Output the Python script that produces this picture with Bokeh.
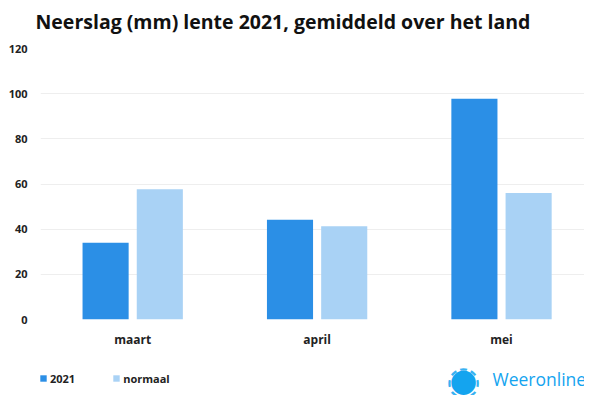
from bokeh.plotting import figure
from bokeh.layouts import column
from bokeh.models import ColumnDataSource, Range1d, FixedTicker, Legend, LegendItem, Label, Title
from bokeh.transform import dodge
from bokeh.embed import file_html
from bokeh.resources import INLINE

months = ["maart", "april", "mei"]
values_2021 = [34.0, 44.2, 97.7]
values_normaal = [57.7, 41.3, 56.0]
y_ticks = [0, 20, 40, 60, 80, 100, 120]
series_labels = ["2021", "normaal"]
title_text = "Neerslag (mm) lente 2021, gemiddeld over het land"

C2021 = "#2b8fe6"
CNORM = "#a9d2f5"
LOGO = "#14a4ef"
FONT = "Open Sans"

idx = list(range(len(months)))
source = ColumnDataSource(dict(idx=idx, month=months, v2021=values_2021, vnorm=values_normaal))

p = figure(width=584, height=350, x_range=Range1d(-0.5, len(months) - 0.55), y_range=Range1d(0, 120),
           output_backend="svg", toolbar_location=None,
           min_border_left=40, min_border_right=0, min_border_top=48, min_border_bottom=27)

# small spacer between the title and the plot area
p.add_layout(Title(text=" ", text_font_size="1px", standoff=11), "above")

p.title.text = title_text
p.title.text_font = FONT
p.title.text_font_size = "19.5px"
p.title.text_font_style = "bold"
p.title.text_color = "#111111"
p.title.offset = -5
p.title.vertical_align = "bottom"
p.title.standoff = 0

r1 = p.vbar(x=dodge("idx", -0.147), top="v2021", width=0.25,
            source=source, fill_color=C2021, line_color=None)
r2 = p.vbar(x=dodge("idx", 0.147), top="vnorm", width=0.25,
            source=source, fill_color=CNORM, line_color=None)

p.outline_line_color = None
p.xgrid.grid_line_color = None
p.ygrid.grid_line_color = "#eeeeee"
p.yaxis.ticker = FixedTicker(ticks=y_ticks)
p.xaxis.ticker = FixedTicker(ticks=idx)
p.xaxis.major_label_overrides = {i: m for i, m in zip(idx, months)}

for ax in (p.xaxis[0], p.yaxis[0]):
    ax.axis_line_color = None
    ax.major_tick_line_color = None
    ax.minor_tick_line_color = None
    ax.major_tick_out = 0
    ax.major_tick_in = 0
    ax.minor_tick_out = 0
    ax.minor_tick_in = 0
    ax.major_label_text_font = FONT
    ax.major_label_text_font_style = "bold"
    ax.major_label_text_color = "#222222"

p.yaxis.major_label_text_font_size = "11px"
p.yaxis.major_label_standoff = 13
p.xaxis.major_label_text_font_size = "12px"
p.xaxis.major_label_standoff = 11

# bottom strip: legend + logo (bars of the same data fall outside its range, so only the legend shows)
s = figure(width=584, height=45, x_range=Range1d(-0.5, len(months) - 0.55), y_range=Range1d(1000, 1045),
           output_backend="svg", toolbar_location=None, x_axis_location=None, y_axis_location=None,
           min_border_left=0, min_border_right=0, min_border_top=0, min_border_bottom=0)
s.grid.visible = False
s.outline_line_color = None

d1 = s.vbar(x="idx", top="v2021", width=0.25, source=source, fill_color=C2021, line_color=None)
d2 = s.vbar(x="idx", top="vnorm", width=0.25, source=source, fill_color=CNORM, line_color=None)

legend = Legend(items=[LegendItem(label=series_labels[0], renderers=[d1]),
                       LegendItem(label=series_labels[1], renderers=[d2])],
                location=(-1, 9), orientation="horizontal",
                padding=0, margin=0, spacing=37, label_standoff=3,
                glyph_width=8, glyph_height=8, label_height=16,
                label_text_font=FONT, label_text_font_style="bold",
                label_text_font_size="11px", label_text_color="#222222",
                background_fill_alpha=0, border_line_color=None)
s.add_layout(legend)

s.add_layout(Label(x=423, y=16, x_units="screen", y_units="screen", text="◌",
                   text_align="center", text_baseline="middle", text_alpha=0.85,
                   text_font="DejaVu Sans", text_font_size="40px", text_color=LOGO))
s.add_layout(Label(x=423, y=16, x_units="screen", y_units="screen", text="●",
                   text_align="center", text_baseline="middle",
                   text_font="DejaVu Sans", text_font_size="32px", text_color=LOGO))
s.add_layout(Label(x=452, y=16.5, x_units="screen", y_units="screen", text="Weeronline",
                   text_baseline="middle", text_font=FONT, text_font_size="17.5px",
                   text_font_style="normal", text_color=LOGO))

layout = column(p, s, spacing=0)
open("out.html", "w").write(file_html(layout, INLINE))
